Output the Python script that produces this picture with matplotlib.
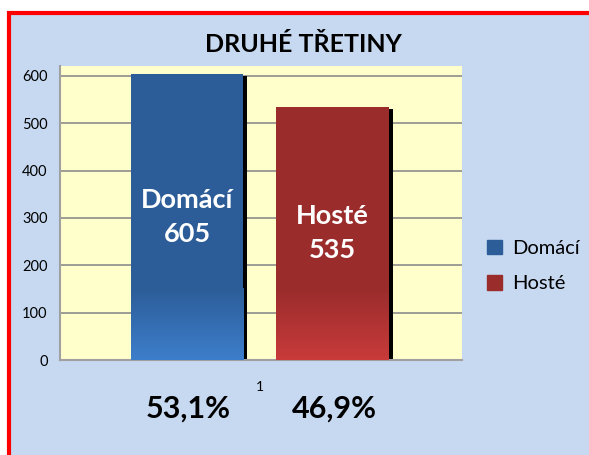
import numpy as np
import matplotlib
matplotlib.use("Agg")
import matplotlib.pyplot as plt
from matplotlib.transforms import ScaledTranslation
from matplotlib.patches import Rectangle
from matplotlib.colors import LinearSegmentedColormap

plt.rcParams["image.composite_image"] = False

categories = ["Domácí", "Hosté"]
values = [605, 535]
percent_labels = ["53,1%", "46,9%"]
title = "DRUHÉ TŘETINY"
yticks = [0, 100, 200, 300, 400, 500, 600]
xtick_label = "1"

top_colors = ["#2c5d98", "#9a2c2c"]
bottom_colors = ["#3d7ecb", "#c83b3a"]

FONT = "Lato"
W, H = 589, 455
fig = plt.figure(figsize=(W / 100, H / 100), dpi=100)
fig.patch.set_facecolor("white")

# chart area background with red border (left/top visible)
fig.patches.append(Rectangle((9 / W, -0.1), 1.2, (H - 12 + 45) / H, transform=fig.transFigure,
                             facecolor="#c6d9f1", edgecolor="#ff0000", linewidth=3, zorder=-5))

ax = fig.add_axes([60 / W, 1 - 360 / H, (462 - 60) / W, (360 - 66) / H])
ax.set_zorder(1)
ax.set_facecolor("#ffffcc")

x = np.arange(len(values))
width = 0.77

# shadows
shadow_tr = ax.transData + ScaledTranslation(3.2 / 72, -1.5 / 72, fig.dpi_scale_trans)
ax.bar(x, values, width=width, color="black", transform=shadow_tr, zorder=2)

bars = ax.bar(x, values, width=width, color=top_colors, zorder=3)

# gradient at bottom of bars, clipped to each bar
for b, c_top, c_bot in zip(bars, top_colors, bottom_colors):
    x0, w, h = b.get_x(), b.get_width(), b.get_height()
    grad_top = 150
    cmap = LinearSegmentedColormap.from_list("g", [c_bot, c_top])
    grad = np.linspace(0, 1, 256).reshape(-1, 1)
    im = ax.imshow(grad, extent=(x0, x0 + w, 0, grad_top), origin="lower", cmap=cmap,
                   aspect="auto", zorder=4, interpolation="bilinear")
    im.set_clip_path(b)
ax.set_xlim(-0.873, 1.89)
ax.set_ylim(0, 621)

for xi, v, cat in zip(x, values, categories):
    ax.text(xi, v / 2, f"{cat}\n{v}", ha="center", va="center", color="white",
            fontsize=19.5, fontweight="bold", family=FONT, linespacing=1.5, zorder=5)

ax.set_yticks(yticks)
ax.set_yticklabels([str(t) for t in yticks], fontsize=10.5, family=FONT)
ax.yaxis.grid(True, color="#8c8c8c", linewidth=1.2, zorder=1)
ax.set_axisbelow(True)
ax.tick_params(axis="y", length=0, pad=9)
ax.set_xticks([0.5])
ax.set_xticklabels([xtick_label], fontsize=10, family=FONT)
ax.tick_params(axis="x", length=0, pad=15)
for s in ["top", "right"]:
    ax.spines[s].set_visible(False)
ax.spines["left"].set_color("#a0a0a0")
ax.spines["bottom"].set_color("#a0a0a0")
ax.spines["left"].set_linewidth(1.5)
ax.spines["bottom"].set_linewidth(1.5)

for xi, p in zip(x, percent_labels):
    ax.annotate(p, xy=(xi, 0), xycoords="data", xytext=(1, -35), textcoords="offset points",
                ha="center", va="center", fontsize=22, fontweight="bold", family=FONT,
                annotation_clip=False)

fig.text(303 / W, 1 - 44 / H, title, ha="center", va="center", fontsize=18,
         fontweight="bold", family=FONT)

# legend
handles = [Rectangle((0, 0), 1, 1, color=c) for c in top_colors]
fig.legend(handles, categories, loc="center left", bbox_to_anchor=(487 / W, 1 - 266 / H),
           frameon=False, prop={"family": FONT, "size": 14.5}, handlelength=0.75,
           handleheight=0.75, handletextpad=0.5, labelspacing=0.9, borderpad=0.0,
           borderaxespad=0.0)

fig.savefig("out.png", dpi=100, facecolor="white")
